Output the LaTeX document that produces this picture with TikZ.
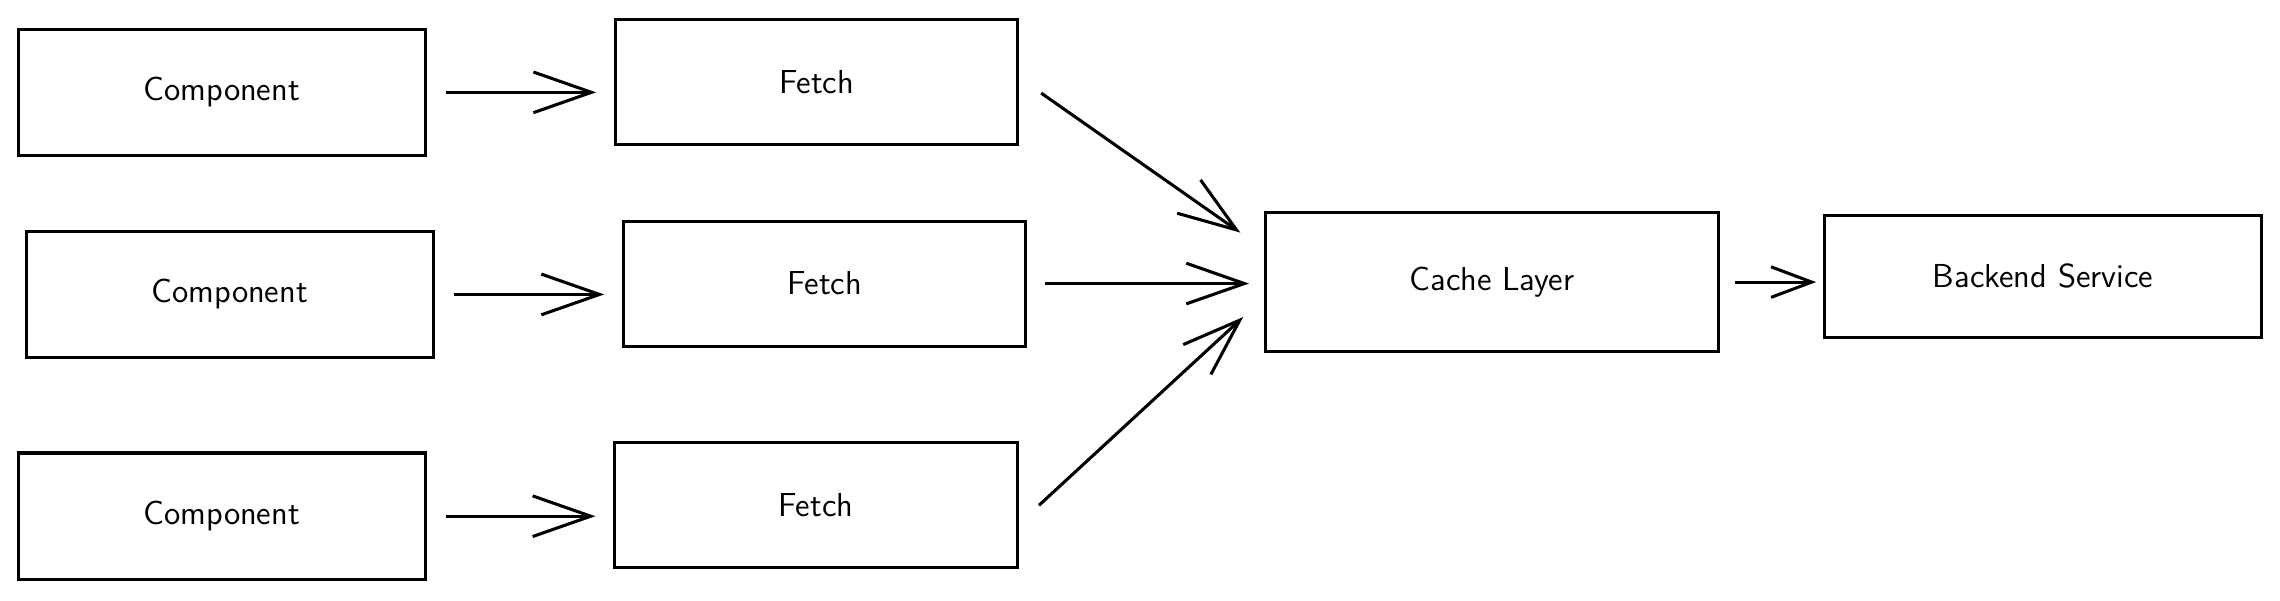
\documentclass[tikz,border=0pt]{standalone}
\usepackage{amsmath}
\usepackage{amssymb}
\usepackage{tikz}
\usetikzlibrary{positioning,calc,arrows.meta}

\tikzset{
    box/.style={draw, line width=1.2pt, minimum width=5.6cm, minimum height=1.74cm, font=\sffamily\fontsize{13}{15}\selectfont},
    arr/.style={line width=1.2pt, -{Straight Barb[length=8mm,width=5.6mm]}},
    arrsmall/.style={line width=1.2pt, -{Straight Barb[length=5.6mm,width=4.2mm]}}
}

\begin{document}
\begin{tikzpicture}[x=0.02cm, y=-0.02cm]
    \useasboundingbox (0,0) rectangle (1568,413);
    % Componenti e fetch, una riga per volta
    \foreach \i/\cx/\cy/\fx/\fy in {1/152.5/63.5/561.5/56.5, 2/158/202.5/567/195, 3/152.5/355/561/347.5} {
        \node[box] (comp\i)  at (\cx, \cy) {Component};
        \node[box, minimum width=5.54cm, minimum height=1.72cm] (fetch\i) at (\fx, \fy) {Fetch};
    }
    \node[box, minimum width=6.24cm, minimum height=1.92cm] (cache)   at (1026, 194) {Cache Layer};
    \node[box, minimum width=6cm,    minimum height=1.68cm] (backend) at (1405, 190) {Backend Service};
    % Collegamenti
    \foreach \i in {1,...,3} {
        \draw[arr, shorten <=0.26cm, shorten >=0.24cm] (comp\i.east) -- (comp\i.east -| fetch\i.west);
    }
    \draw[arr] ($(fetch1.east)+(15,7.5)$) -- ($(cache.north west)+(-16,15)$);
    \draw[arr, shorten <=0.24cm, shorten >=0.2cm] (fetch2.east) -- (fetch2.east -| cache.west);
    \draw[arr] ($(fetch3.east)+(14,0)$) -- ($(cache.west)+(-14,24)$);
    \draw[arrsmall, shorten <=0.2cm, shorten >=0.1cm] (cache.east) -- (cache.east -| backend.west);
\end{tikzpicture}
\end{document}
